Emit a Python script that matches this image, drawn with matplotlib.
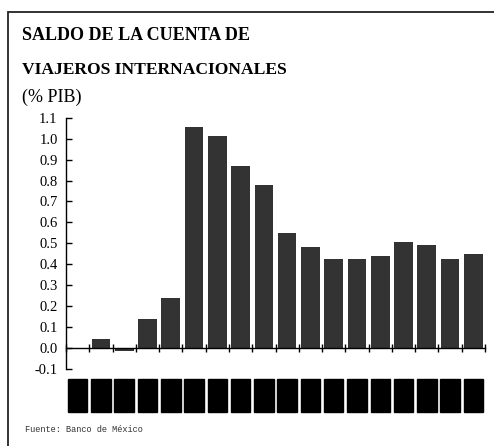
import numpy as np
import matplotlib
matplotlib.use("Agg")
import matplotlib.pyplot as plt
from matplotlib.patches import Rectangle
import matplotlib.transforms as mtransforms

# Saldo de la cuenta de viajeros internacionales, % del PIB
years = [str(y) for y in range(1980, 1998)]
saldo = [0.0, 0.043, -0.012, 0.138, 0.239, 1.054, 1.011, 0.868, 0.778,
         0.549, 0.482, 0.425, 0.425, 0.439, 0.506, 0.491, 0.425, 0.448]
yticks = [-0.1, 0.0, 0.1, 0.2, 0.3, 0.4, 0.5, 0.6, 0.7, 0.8, 0.9, 1.0, 1.1]
ytick_labels = ["-0.1", "0.0", "0.1", "0.2", "0.3", "0.4", "0.5", "0.6",
                "0.7", "0.8", "0.9", "1.0", "1.1"]

W, H = 494, 446
fig = plt.figure(figsize=(W / 100, H / 100), dpi=100)
fig.patch.set_facecolor("white")

# outer frame (left and top edges)
fig.patches.append(Rectangle((8 / W, -0.5), 2.0, (H - 12) / H + 0.5,
                             transform=fig.transFigure, fill=False,
                             edgecolor="#222222", linewidth=1.3))

ax = fig.add_axes([66 / W, 77 / H, (485 - 66) / W, (369 - 117.7) / H])
x = np.arange(len(years)) + 0.5
ax.bar(x, saldo, width=0.8, color="#333333", zorder=2)

ax.set_xlim(0, len(years))
ax.set_ylim(-0.1, 1.1)
for s in ["top", "right"]:
    ax.spines[s].set_visible(False)
ax.spines["bottom"].set_position(("data", 0))
ax.spines["bottom"].set_zorder(3)
ax.spines["left"].set_linewidth(1.0)
ax.spines["bottom"].set_linewidth(1.0)

ax.set_yticks(yticks)
ax.set_yticklabels(ytick_labels, family="Liberation Serif", fontsize=10.5)
ax.tick_params(axis="y", direction="in", length=4, pad=6, width=1.0)
ax.set_xticks(np.arange(len(years) + 1))
ax.set_xticklabels([])
ax.tick_params(axis="x", direction="inout", length=6, width=1.0)

# year labels below the plot
trans = mtransforms.blended_transform_factory(ax.transData, ax.transAxes)
for xi, yr in zip(x, years):
    ax.text(xi, -0.055, yr, transform=trans, rotation=90, ha="center",
            va="top", fontsize=9, family="Liberation Serif", color="black",
            bbox=dict(boxstyle="square,pad=0.3", facecolor="black",
                      edgecolor="black"))

fig.text(22 / W, 1 - 36 / H, "SALDO DE LA CUENTA DE", family="Liberation Serif",
         fontweight="bold", fontsize=13, va="center", ha="left")
fig.text(22 / W, 1 - 70 / H, "VIAJEROS INTERNACIONALES",
         family="Liberation Serif", fontweight="bold", fontsize=12.6,
         va="center", ha="left")
fig.text(22 / W, 1 - 97 / H, "(% PIB)", family="Liberation Serif",
         fontsize=13, va="center", ha="left")
fig.text(25 / W, 1 - 430 / H, "Fuente: Banco de México",
         family="Liberation Mono", fontsize=6.2, va="center", ha="left",
         color="#333333")

fig.savefig("out.png", dpi=100, facecolor="white")
